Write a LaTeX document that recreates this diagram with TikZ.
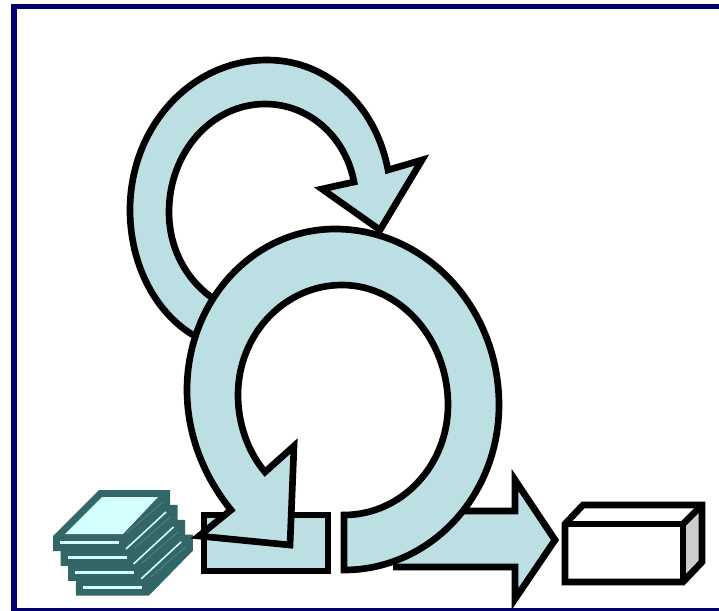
\documentclass[tikz,border=0pt]{standalone}
\definecolor{arrowfill}{HTML}{BBDFE3}
\definecolor{teal}{HTML}{336666}
\definecolor{pale}{HTML}{D4FFFF}
\definecolor{faint}{HTML}{5F8C8C}
\definecolor{frame}{HTML}{000070}
\tikzset{
  shapeline/.style={draw=black,line width=5pt,miter limit=10,line join=miter},
  flow/.style={shapeline,fill=arrowfill},
}
\begin{document}
\begin{tikzpicture}[x=0.75pt,y=-0.75pt]
\useasboundingbox (0,0) rectangle (719,611);
\fill[white] (0,0) rectangle (719,611);
\draw[frame,line width=4pt] (14,6.5) rectangle (730,611);
% stack of documents
\foreach \i in {3,2,1,0}{
  \begin{scope}[shift={({\i*7.6},{\i*14.9})}]
    \fill[teal] (53,536) -- (99,490) -- (170,490) -- (170,506) -- (126,551) -- (53,551) -- cycle;
    \fill[pale] (60,541) rectangle (119,544);
    \draw[faint,line width=0.4pt] (127,533) -- (163,502);
    \ifnum\i<3 \draw[pale,line width=1.2pt] (126,549) -- (166,512); \fi
  \end{scope}
}
\fill[pale] (65,534) -- (102,497) -- (158,497) -- (123,534) -- cycle;
% backlog box and output arrow
\draw[flow] (204,515) rectangle (328,571);
\draw[flow] (393,511) -- (515,511) -- (515,480) -- (555,540) -- (515,599) -- (515,567) -- (393,567);
% small loop
\draw[flow] (193,335) .. controls (155,312) and (130,264) .. (130,210)
  .. controls (130,127) and (191,60) .. (267,60)
  .. controls (328,60) and (376,106) .. (388,170)
  -- (422,160) -- (380,230) -- (322,189) -- (354,182)
  .. controls (346,138) and (310,104) .. (265,104)
  .. controls (212,104) and (169,152) .. (169,212)
  .. controls (169,247) and (185,278) .. (211,297) ;
% big loop
\draw[flow] (344,570) .. controls (430,570) and (499,496) .. (499,405)
  .. controls (499,308) and (426,229) .. (335,229)
  .. controls (253,229) and (187,301) .. (187,390)
  .. controls (187,436) and (205,478) .. (231,510)
  -- (199,536) -- (290,545) -- (294,446) -- (265,472)
  .. controls (248,452) and (238,424) .. (238,395)
  .. controls (238,334) and (285,285) .. (342,285)
  .. controls (400,285) and (448,339) .. (448,405)
  .. controls (448,466) and (401,515) .. (344,515) -- cycle;
% product box
\fill[white] (565,524) -- (583,505) -- (702,505) -- (683,524) -- (683,582) -- (565,582) -- cycle;
\fill[black!20] (683,524) -- (702,505) -- (702,562) -- (683,582) -- cycle;
\draw[shapeline] (565,524) -- (583,505) -- (702,505) -- (702,562) -- (683,582) -- (565,582) -- cycle;
\draw[shapeline] (565,524) -- (683,524) -- (683,582);
\draw[shapeline] (683,524) -- (702,505);
\end{tikzpicture}
\end{document}
